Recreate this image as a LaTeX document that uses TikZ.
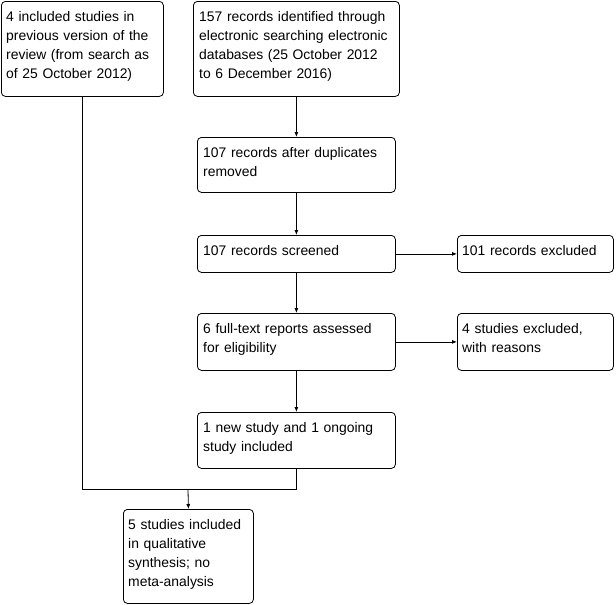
\documentclass[tikz,border=0pt]{standalone}
\usepackage{fontspec}
\setmainfont{Liberation Sans}
\usetikzlibrary{arrows.meta}
\begin{document}
\begin{tikzpicture}[x=1pt,y=-1pt,
  boxshape/.style={draw, line width=0.8pt, rounded corners=4pt, anchor=north west, inner sep=0pt},
  txt/.style={anchor=base west, inner sep=0pt, text width=240pt, align=left, font=\fontsize{13.9}{19}\selectfont},
  arr/.style={-{Latex[length=5pt,width=4pt]}, line width=0.8pt},
  conn/.style={line width=0.8pt}]
\useasboundingbox (0,0) rectangle (616,605);
% boxes
\node[boxshape, minimum width=162pt, minimum height=95pt] (A) at (1,1) {};
\node[boxshape, minimum width=206pt, minimum height=95pt] (B) at (193,1) {};
\node[boxshape, minimum width=198pt, minimum height=55pt] (C) at (197,137) {};
\node[boxshape, minimum width=198pt, minimum height=37pt] (D) at (197,235) {};
\node[boxshape, minimum width=156pt, minimum height=37pt] (E) at (457,235) {};
\node[boxshape, minimum width=198pt, minimum height=57pt] (F) at (197,313) {};
\node[boxshape, minimum width=156pt, minimum height=57pt] (G) at (457,313) {};
\node[boxshape, minimum width=198pt, minimum height=56pt] (H) at (197,412) {};
\node[boxshape, minimum width=130pt, minimum height=94pt] (I) at (123,509) {};
% texts
\node[txt] (tA) at ([shift={(5,20)}]A.north west) {4 included studies in\\previous version of the\\review (from search as\\of 25 October 2012)};
\node[txt] (tB) at ([shift={(6,20)}]B.north west) {157 records identified through\\electronic searching electronic\\databases (25 October 2012\\to 6 December 2016)};
\node[txt] (tC) at ([shift={(6,20)}]C.north west) {107 records after duplicates\\removed};
\node[txt] (tD) at ([shift={(6,20)}]D.north west) {107 records screened};
\node[txt] (tE) at ([shift={(5,20)}]E.north west) {101 records excluded};
\node[txt] (tF) at ([shift={(6,20)}]F.north west) {6 full-text reports assessed\\for eligibility};
\node[txt] (tG) at ([shift={(5,20)}]G.north west) {4 studies excluded,\\with reasons};
\node[txt] (tH) at ([shift={(6,20)}]H.north west) {1 new study and 1 ongoing\\study included};
\node[txt] (tI) at ([shift={(5,20)}]I.north west) {5 studies included\\in qualitative\\synthesis; no\\meta-analysis};
% connectors
\draw[arr] (B.south) -- (C.north);
\draw[arr] (C.south) -- (D.north);
\draw[arr] (D.south) -- (F.north);
\draw[arr] (F.south) -- (H.north);
\draw[arr] (D.east) -- (E.west);
\draw[arr] (F.east) -- (G.west);
\coordinate (J) at (188,489);
\draw[conn] (A.south) |- (J);
\draw[conn] (H.south) |- (J);
\draw[arr] (J) -- (I.north);
\end{tikzpicture}
\end{document}
